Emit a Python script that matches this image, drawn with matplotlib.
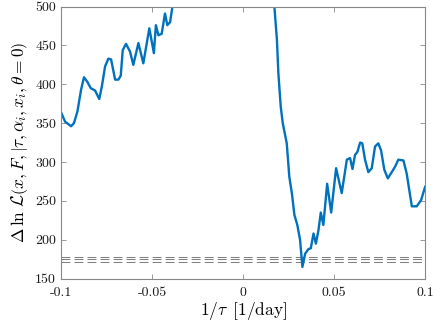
import matplotlib
matplotlib.use("Agg")
from matplotlib import pyplot as plt
import numpy as np

plt.rcParams['font.family'] = 'cmr10'
plt.rcParams['mathtext.fontset'] = 'cm'
plt.rcParams['axes.unicode_minus'] = False

# curve left of the gap (1/tau, dlnL)
x_left = [-0.1000, -0.0978, -0.0945, -0.0929, -0.0910, -0.0890, -0.0874, -0.0855,
          -0.0837, -0.0813, -0.0790, -0.0776, -0.0758, -0.0740, -0.0725, -0.0703,
          -0.0685, -0.0672, -0.0661, -0.0643, -0.0621, -0.0603, -0.0575, -0.0548,
          -0.0515, -0.0490, -0.0479, -0.0465, -0.0447, -0.0429, -0.0416, -0.0401,
          -0.0388, -0.0360]
y_left = [364, 352, 346, 350, 365, 393, 409, 403,
          395, 392, 381, 397, 423, 433, 432, 406,
          406, 411, 444, 452, 442, 425, 453, 427,
          472, 440, 476, 463, 465, 491, 476, 480,
          500, 530]

# curve right of the gap
x_right = [0.0150, 0.0172, 0.0186, 0.0194, 0.0207, 0.0218, 0.0240, 0.0254, 0.0268,
           0.0282, 0.0298, 0.0313, 0.0326, 0.0341, 0.0359, 0.0372, 0.0387,
           0.0400, 0.0414, 0.0427, 0.0441, 0.0462, 0.0484, 0.0511, 0.0542,
           0.0570, 0.0588, 0.0601, 0.0615, 0.0628, 0.0643, 0.0655, 0.0670,
           0.0688, 0.0707, 0.0725, 0.0743, 0.0758, 0.0776, 0.0795, 0.0817,
           0.0835, 0.0853, 0.0881, 0.0899, 0.0927, 0.0954, 0.0978, 0.1000]
y_right = [540, 500, 457, 414, 371, 350, 324, 281, 260,
           232, 219, 200, 165, 182, 188, 189, 208,
           195, 212, 235, 219, 272, 235, 292, 260,
           303, 305, 291, 309, 313, 325, 324, 303,
           287, 292, 320, 324, 315, 290, 279, 287,
           294, 303, 302, 285, 243, 243, 251, 268]

# threshold levels
levels = [177.5, 174.8, 172.0]

xticks = [-0.1, -0.05, 0, 0.05, 0.1]
xticklabels = ['-0.1', '-0.05', '0', '0.05', '0.1']
yticks = [150, 200, 250, 300, 350, 400, 450, 500]

BLUE = '#0072BD'

fig = plt.figure(figsize=(4.36, 3.27), dpi=100)
ax = fig.add_axes([0.14, 0.148, 0.835, 0.832])

for lv in levels:
    ax.axhline(lv, color='#808080', lw=0.75, ls=(0, (8.5, 4)))

ax.plot(x_left + x_right, y_left + y_right, color=BLUE, lw=1.7)

ax.set_xlim(-0.1, 0.1)
ax.set_ylim(150, 500)
ax.set_xticks(xticks)
ax.set_xticklabels(xticklabels)
ax.set_yticks(yticks)

for s in ax.spines.values():
    s.set_color('#888888')
    s.set_linewidth(0.8)
ax.tick_params(direction='in', top=True, right=True, length=3.5, width=0.6,
               color='#888888', labelsize=10, labelcolor='#1a1a1a')
ax.tick_params(axis='x', pad=6)

ax.set_xlabel(r'$1/\tau\ \,[1/\mathrm{day}]$', fontsize=12.5, labelpad=1)
ax.set_ylabel(r'$\Delta\,\ln\,\mathcal{L}\left(x,F,\right|\left.\tau,\alpha_i,x_i,\theta=0\right)$',
              fontsize=12.5, labelpad=4)

fig.savefig('out.png', dpi=100)
